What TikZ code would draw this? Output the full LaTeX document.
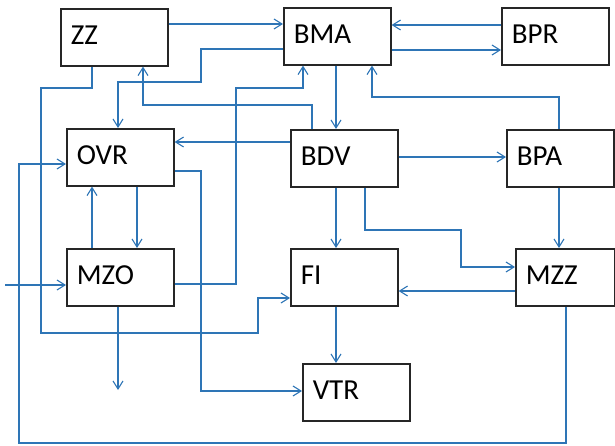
\documentclass[tikz,border=0pt]{standalone}
\usepackage{fontspec}
\setmainfont{Carlito}
\usetikzlibrary{arrows.meta}
\definecolor{lc}{RGB}{46,117,182}
\definecolor{bc}{RGB}{38,38,38}
\tikzset{
  box/.style={draw=bc, line width=1.6pt, fill=white, anchor=north west,
    minimum height=57pt, text width=87pt, inner xsep=10pt, inner ysep=0pt,
    align=left, text depth=4pt, font=\fontsize{29}{29}\selectfont},
  arr/.style={draw=lc, line width=1.1pt, -{Straight Barb[length=8pt,width=10pt,line width=1.1pt]}},
}
\begin{document}
\begin{tikzpicture}[x=1pt,y=-1pt]
\useasboundingbox (0,0) rectangle (615,446);
% boxes
\node[box] (ZZ)  at (60,8)   {ZZ};
\node[box] (BMA) at (283,7)  {BMA};
\node[box] (BPR) at (501,7)  {BPR};
\node[box] (OVR) at (66,128) {OVR};
\node[box] (BDV) at (290,129){BDV};
\node[box] (BPA) at (506,129){BPA};
\node[box] (MZO) at (66,248) {MZO};
\node[box] (FI)  at (290,248){FI};
\node[box, text width=79pt] (MZZ) at (515,248){MZZ};
\node[box] (VTR) at (302,363){VTR};
% free ends
\coordinate (in) at (5,285);
\coordinate (out) at (118,390);
% connectors
\draw[arr] (ZZ.east |- 0,24) -- (BMA.west |- 0,24);
\draw[arr] (BMA.west |- 0,49) -| (201,82) -| (OVR.north -| 118,0);
\draw[arr] (BDV.north -| 312,0) |- (143,105) -- (ZZ.south -| 143,0);
\draw[arr] (MZO.east |- 0,284) -| (236,88) -| (BMA.south -| 303,0);
\draw[arr] (ZZ.south -| 92,0) |- (41,88) |- (258,333) |- (FI.west |- 0,298);
\draw[arr] (BDV.west |- 0,142) -- (OVR.east |- 0,142);
\draw[arr] (MZZ.south -| 566,0) |- (19,443) |- (OVR.west |- 0,164);
\draw[arr] (OVR.east |- 0,171) -| (201,391) -- (VTR.west |- 0,391);
\draw[arr] (MZO.north -| 92,0) -- (OVR.south -| 92,0);
\draw[arr] (OVR.south -| 137,0) -- (MZO.north -| 137,0);
\draw[arr] (in) -- (MZO.west |- in);
\draw[arr] (MZO.south -| out) -- (out);
\draw[arr] (BMA.south -| 336,0) -- (BDV.north -| 336,0);
\draw[arr] (BPA.north -| 559,0) |- (372,97) -- (BMA.south -| 372,0);
\draw[arr] (BPR.west |- 0,25) -- (BMA.east |- 0,25);
\draw[arr] (BMA.east |- 0,50) -- (BPR.west |- 0,50);
\draw[arr] (BDV.east |- 0,157) -- (BPA.west |- 0,157);
\draw[arr] (BDV.south -| 336,0) -- (FI.north -| 336,0);
\draw[arr] (BDV.south -| 365,0) |- (461,230) |- (MZZ.west |- 0,267);
\draw[arr] (BPA.south -| 559,0) -- (MZZ.north -| 559,0);
\draw[arr] (MZZ.west |- 0,291) -- (FI.east |- 0,291);
\draw[arr] (FI.south -| 336,0) -- (VTR.north -| 336,0);
\end{tikzpicture}
\end{document}
